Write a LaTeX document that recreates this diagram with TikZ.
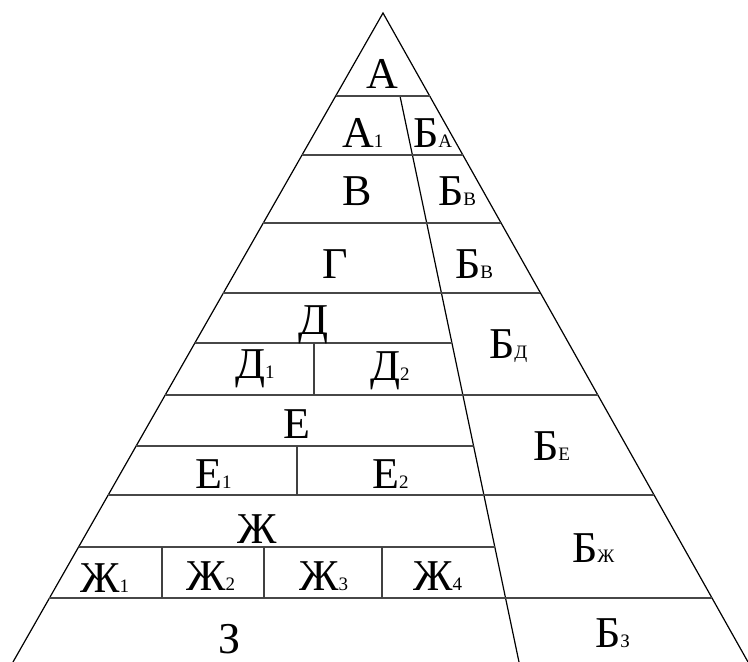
\documentclass[tikz,border=0pt]{standalone}
\usepackage{fontspec}
\setmainfont{Liberation Serif}
\usetikzlibrary{calc}
\tikzset{
  side/.style={line width=1.2pt, black},
  hline/.style={line width=1.8pt, black!72},
  vline/.style={line width=1.3pt, black!75},
  lbl/.style={anchor=base west, inner sep=0pt, font=\fontsize{44}{44}\selectfont},
}
\newcommand\sbx[1]{{\fontsize{19}{19}\selectfont #1}}
\begin{document}
\begin{tikzpicture}[x=1pt,y=-1pt]
\useasboundingbox[fill=white] (0,0) rectangle (748,662);
% main triangle and divider
\coordinate (apex) at (383,13);
\coordinate (bl) at (13,662);
\coordinate (br) at (748,662);
\coordinate (dtop) at (400,96);
\coordinate (dbot) at (519,662);
\draw[side] (bl) -- (apex) -- (br);
\draw[side] (dtop) -- (dbot);
% full-width horizontal lines
\foreach \y in {96,155,223,293,395,495,598} {
  \draw[hline] ($(apex)!{(\y-13)/649}!(bl)$) -- ($(apex)!{(\y-13)/649}!(br)$);
}
% left part lines (to divider)
\foreach \y in {343,446,547} {
  \draw[hline] ($(apex)!{(\y-13)/649}!(bl)$) -- ($(dtop)!{(\y-96)/566}!(dbot)$);
}
% vertical dividers
\draw[vline] (314,343) -- (314,395);
\draw[vline] (297,446) -- (297,495);
\foreach \x in {162,264,382} {
  \draw[vline] (\x,547) -- (\x,598);
}
% labels
\node[lbl, anchor=base] (a) at (382,88) {А};
\node[lbl] (a1) at (342,147) {А\sbx{1}};
\node[lbl] (ba) at (413,147) {Б\sbx{А}};
\node[lbl] (v) at (342,205) {В};
\node[lbl] (bv) at (438,205) {Б\sbx{В}};
\node[lbl] (g) at (322,278) {Г};
\node[lbl] (bv2) at (455,278) {Б\sbx{В}};
\node[lbl] (d) at (298,334) {Д};
\node[lbl] (d1) at (235,378) {Д\sbx{1}};
\node[lbl] (d2) at (370,380) {Д\sbx{2}};
\node[lbl] (bd) at (489,358) {Б\sbx{Д}};
\node[lbl] (e) at (283,438) {Е};
\node[lbl] (e1) at (195,488) {Е\sbx{1}};
\node[lbl] (e2) at (372,488) {Е\sbx{2}};
\node[lbl] (be) at (533,460) {Б\sbx{Е}};
\node[lbl] (zh) at (237,543) {Ж};
\node[lbl] (zh1) at (80,592) {Ж\sbx{1}};
\node[lbl] (zh2) at (186,590) {Ж\sbx{2}};
\node[lbl] (zh3) at (299,590) {Ж\sbx{3}};
\node[lbl] (zh4) at (413,590) {Ж\sbx{4}};
\node[lbl] (bzh) at (572,562) {Б\sbx{Ж}};
\node[lbl] (z) at (218,653) {З};
\node[lbl] (bz) at (595,647) {Б\sbx{З}};
\end{tikzpicture}
\end{document}
